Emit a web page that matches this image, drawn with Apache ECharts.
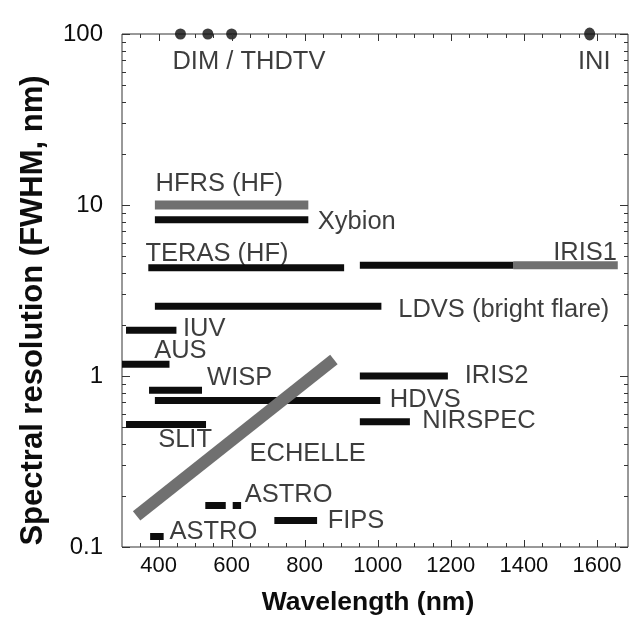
<!DOCTYPE html>
<html><head><meta charset="utf-8">
<script src="https://cdn.jsdelivr.net/npm/echarts/dist/echarts.min.js"></script>
<style>html,body{margin:0;padding:0;background:#fff}#c{width:635px;height:639px}</style>
</head><body><div id="c"></div>
<script>
// ---- data (wavelength in nm, spectral resolution FWHM in nm) ----
const blackBarNames = ['Xybion','TERAS (HF)','IRIS1','LDVS','IUV','AUS','WISP','HDVS','IRIS2','NIRSPEC','SLIT','ASTRO a','ASTRO a2','ASTRO b','FIPS'];
const blackBarStart = [390, 372, 951, 390, 311, 300, 374, 390, 951, 951, 311, 528, 603, 377, 717];
const blackBarEnd   = [810, 908, 1371, 1010, 449, 430, 519, 1007, 1192, 1088, 530, 584, 626, 414, 834];
const blackBarFWHM  = [8.2, 4.3, 4.45, 2.56, 1.85, 1.17, 0.825, 0.72, 1.0, 0.54, 0.52, 0.175, 0.175, 0.115, 0.143];

const grayBarNames = ['HFRS (HF)','IRIS1 ext'];
const grayBarStart = [390, 1371];
const grayBarEnd   = [810, 1657];
const grayBarFWHM  = [10, 4.45];

const echelleWavelength = [340, 880];
const echelleFWHM = [0.152, 1.25];

const dimWavelength = [460, 535, 600];
const dimFWHM = [100, 100, 100];
const iniWavelength = [1580];
const iniFWHM = [100];

// annotation labels anchored at their left edge
const labelTexts = ['DIM / THDTV','INI','HFRS (HF)','Xybion','TERAS (HF)','LDVS (bright flare)','IUV','AUS','WISP','IRIS2','HDVS','NIRSPEC','SLIT','ECHELLE','ASTRO','ASTRO','FIPS'];
const labelX = [438, 1548, 392, 836, 364, 1056, 467, 388, 533, 1238, 1033, 1122, 399, 649, 636, 430, 863];
const labelY = [70, 70, 13.4, 8.1, 5.25, 2.48, 1.92, 1.42, 0.987, 1.01, 0.734, 0.551, 0.427, 0.355, 0.205, 0.124, 0.144];
// annotation labels anchored at their right edge
const rightLabelTexts = ['IRIS1'];
const rightLabelX = [1655];
const rightLabelY = [5.3];

const xTickLabels = [400, 600, 800, 1000, 1200, 1400, 1600];
const xTickMinor = [350,450,500,550,650,700,750,850,900,950,1050,1100,1150,1250,1300,1350,1450,1500,1550,1650];
const yTickLabels = [0.1, 1, 10, 100];
const yTickMinor = [0.2,0.3,0.4,0.5,0.6,0.7,0.8,0.9,2,3,4,5,6,7,8,9,20,30,40,50,60,70,80,90];

// ---- chart ----
const FONT = '"Liberation Sans", Arial, Helvetica, sans-serif';
const INK = '#0d0d0d';
const GRAY = '#707070';

const chart = echarts.init(document.getElementById('c'), null, {renderer: 'canvas'});

function seg(name, x1, x2, y, color, width, z) {
  return {type: 'line', name: name, data: [[x1, y], [x2, y]], symbol: 'none', silent: true,
    lineStyle: {color: color, width: width, cap: 'butt'}, z: z, animation: false};
}

function tickSeries(values, isX, len) {
  return {
    type: 'custom', silent: true, clip: false, animation: false, z: 10,
    data: values.map(v => isX ? [v, 1] : [1000, v]),
    renderItem: function (params, api) {
      const cs = params.coordSys;
      const p = api.coord([api.value(0), api.value(1)]);
      const st = {stroke: '#333', lineWidth: 1};
      if (isX) {
        const x = Math.round(p[0]) + 0.5;
        const yb = cs.y + cs.height, yt = cs.y;
        return {type: 'group', children: [
          {type: 'line', shape: {x1: x, y1: yb, x2: x, y2: yb - len}, style: st},
          {type: 'line', shape: {x1: x, y1: yt, x2: x, y2: yt + len}, style: st}
        ]};
      } else {
        const y = Math.round(p[1]) + 0.5;
        const xl = cs.x, xr = cs.x + cs.width;
        return {type: 'group', children: [
          {type: 'line', shape: {x1: xl, y1: y, x2: xl + len, y2: y}, style: st},
          {type: 'line', shape: {x1: xr, y1: y, x2: xr - len, y2: y}, style: st}
        ]};
      }
    }
  };
}

const labelStyle = {fontFamily: FONT, fontSize: 25.5, color: INK};

const series = [];
grayBarNames.forEach((n, i) => series.push(seg(n, grayBarStart[i], grayBarEnd[i], grayBarFWHM[i], GRAY, i === 0 ? 9 : 8, 2)));
blackBarNames.forEach((n, i) => series.push(seg(n, blackBarStart[i], blackBarEnd[i], blackBarFWHM[i], INK, 7, 3)));
series.push({type: 'line', name: 'ECHELLE', data: echelleWavelength.map((w, i) => [w, echelleFWHM[i]]),
  symbol: 'none', silent: true, animation: false, z: 4, lineStyle: {color: GRAY, width: 12, cap: 'butt'}});
series.push({type: 'scatter', name: 'DIM / THDTV', data: dimWavelength.map((w, i) => [w, dimFWHM[i]]),
  symbol: 'circle', symbolSize: 11, itemStyle: {color: INK}, silent: true, animation: false, z: 5});
series.push({type: 'scatter', name: 'INI', data: iniWavelength.map((w, i) => [w, iniFWHM[i]]),
  symbol: 'circle', symbolSize: [11, 13], itemStyle: {color: INK}, silent: true, animation: false, z: 5});
series.push({type: 'scatter', name: 'labels', symbolSize: 0, silent: true, animation: false, z: 6,
  data: labelTexts.map((t, i) => ({name: t, value: [labelX[i], labelY[i]]})),
  label: Object.assign({show: true, position: 'right', distance: 0, offset: [0, 1], formatter: p => p.name}, labelStyle)});
series.push({type: 'scatter', name: 'labelsRight', symbolSize: 0, silent: true, animation: false, z: 6,
  data: rightLabelTexts.map((t, i) => ({name: t, value: [rightLabelX[i], rightLabelY[i]]})),
  label: Object.assign({show: true, position: 'left', distance: 0, offset: [0, 1], formatter: p => p.name}, labelStyle)});
series.push(tickSeries(xTickLabels, true, 7));
series.push(tickSeries(xTickMinor, true, 4));
series.push(tickSeries(yTickLabels, false, 8));
series.push(tickSeries(yTickMinor, false, 4));

chart.setOption({
  backgroundColor: '#fff',
  animation: false,
  grid: {left: 122, right: 7, top: 34, bottom: 92, show: true, borderColor: '#333', borderWidth: 1, backgroundColor: 'transparent'},
  xAxis: {
    type: 'value', min: 300, max: 1685, interval: 50,
    axisLine: {show: false}, axisTick: {show: false}, splitLine: {show: false},
    axisLabel: {margin: 8, fontFamily: FONT, fontSize: 22, color: INK,
      formatter: v => (xTickLabels.indexOf(v) >= 0 ? String(v) : ''), showMinLabel: true, showMaxLabel: true},
    name: 'Wavelength (nm)', nameLocation: 'middle', nameGap: 42, nameMoveOverlap: false,
    nameTextStyle: {fontFamily: FONT, fontSize: 26.5, fontWeight: 'bold', color: INK, padding: [0, 14, 0, 0]}
  },
  yAxis: {
    type: 'log', logBase: 10, min: 0.1, max: 100,
    axisLine: {show: false}, axisTick: {show: false}, splitLine: {show: false}, minorTick: {show: false},
    axisLabel: {margin: 19, fontFamily: FONT, fontSize: 24, color: INK,
      formatter: v => (yTickLabels.some(t => Math.abs(t - v) / t < 1e-6) ? String(+v.toPrecision(3)) : '')},
    name: 'Spectral resolution (FWHM, nm)', nameLocation: 'middle', nameGap: 73, nameMoveOverlap: false,
    nameTextStyle: {fontFamily: FONT, fontSize: 31, fontWeight: 'bold', color: INK, padding: [0, 40, 0, 0]}
  },
  series: series
});
</script></body></html>
